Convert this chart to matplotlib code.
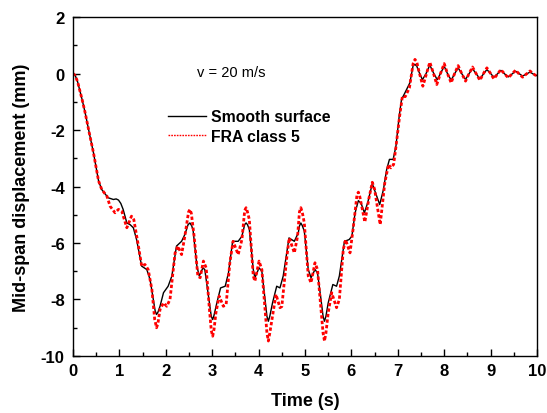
import numpy as np
import matplotlib.pyplot as plt
from matplotlib.ticker import MultipleLocator

plt.rcParams['font.family'] = ['Liberation Sans', 'DejaVu Sans']
plt.rcParams['axes.unicode_minus'] = False

# smooth surface (black)
t_smooth = [0.00, 0.05, 0.10, 0.20, 0.26, 0.35, 0.44, 0.50, 0.55, 0.62, 0.70, 0.76,
            0.87, 0.93, 0.98, 1.03, 1.08, 1.16, 1.23, 1.30, 1.37, 1.48, 1.59, 1.66,
            1.73, 1.77, 1.80, 1.83, 1.875, 1.95, 2.05, 2.13, 2.23, 2.34, 2.41, 2.48,
            2.52, 2.56, 2.59, 2.67, 2.72, 2.80, 2.84, 2.92, 2.98, 3.01, 3.04, 3.10,
            3.18, 3.28, 3.35, 3.44, 3.56, 3.64, 3.70, 3.73, 3.76, 3.80, 3.885, 3.92,
            4.01, 4.07, 4.14, 4.18, 4.21, 4.24, 4.30, 4.39, 4.46, 4.53, 4.64, 4.655,
            4.77, 4.855, 4.88, 4.91, 4.94, 4.985, 5.07, 5.13, 5.215, 5.27, 5.345, 5.39,
            5.42, 5.45, 5.50, 5.60, 5.68, 5.74, 5.85, 5.95, 6.01, 6.08, 6.15, 6.21,
            6.28, 6.35, 6.45, 6.52, 6.61, 6.69, 6.76, 6.82, 6.90, 6.96, 7.03, 7.08,
            7.155, 7.26, 7.33, 7.37, 7.41, 7.45, 7.53, 7.61, 7.69, 7.77, 7.85, 7.92,
            8.00, 8.07, 8.15, 8.22, 8.30, 8.38, 8.46, 8.53, 8.61, 8.69, 8.77, 8.84,
            8.92, 9.00, 9.07, 9.15, 9.22, 9.30, 9.38, 9.46, 9.54, 9.61, 9.69, 9.77,
            9.85, 9.92, 10.00]
y_smooth = [0.00, -0.08, -0.30, -0.95, -1.38, -2.10, -2.80, -3.35, -3.80, -4.11, -4.28, -4.40,
            -4.46, -4.44, -4.48, -4.60, -4.81, -5.29, -5.35, -5.46, -5.88, -6.82, -6.94, -7.29,
            -8.00, -8.40, -8.53, -8.45, -8.24, -7.76, -7.53, -7.17, -6.11, -5.94, -5.70, -5.35,
            -5.29, -5.40, -5.58, -6.82, -7.17, -6.88, -6.94, -7.88, -8.60, -8.71, -8.55, -8.12,
            -7.59, -7.53, -7.06, -5.94, -5.94, -5.76, -5.35, -5.29, -5.35, -5.52, -6.94, -7.23,
            -6.88, -7.00, -8.00, -8.60, -8.77, -8.60, -8.12, -7.53, -7.59, -7.17, -6.00, -5.82,
            -5.94, -5.64, -5.40, -5.29, -5.38, -5.58, -6.94, -7.23, -6.94, -7.06, -8.00, -8.60,
            -8.77, -8.60, -8.12, -7.47, -7.53, -7.17, -5.94, -5.88, -5.76, -4.93, -4.50, -4.60,
            -4.93, -4.58, -3.90, -4.22, -4.64, -4.11, -3.40, -3.04, -3.04, -2.57, -1.51, -0.92,
            -0.68, -0.33, 0.28, 0.32, 0.26, 0.08, -0.22, 0.00, 0.30, 0.02, -0.22, 0.00,
            0.26, 0.00, -0.24, -0.02, 0.20, -0.01, -0.21, -0.02, 0.17, -0.01, -0.19, -0.03,
            0.14, 0.00, -0.13, -0.01, 0.11, -0.01, -0.12, -0.02, 0.08, 0.00, -0.09, -0.02,
            0.05, -0.02, -0.08]

# FRA class 5 (red dashed)
t_fra = [0.00, 0.05, 0.10, 0.20, 0.26, 0.35, 0.44, 0.50, 0.55, 0.62, 0.73, 0.80,
         0.905, 0.98, 1.05, 1.16, 1.26, 1.31, 1.41, 1.48, 1.55, 1.62, 1.70, 1.76,
         1.80, 1.83, 1.875, 1.95, 2.02, 2.09, 2.20, 2.26, 2.34, 2.41, 2.49, 2.52,
         2.55, 2.61, 2.69, 2.74, 2.81, 2.87, 2.94, 2.98, 3.01, 3.04, 3.08, 3.15,
         3.24, 3.30, 3.38, 3.45, 3.56, 3.64, 3.70, 3.73, 3.76, 3.80, 3.885, 3.92,
         4.01, 4.07, 4.14, 4.18, 4.21, 4.24, 4.30, 4.375, 4.46, 4.50, 4.61, 4.66,
         4.77, 4.84, 4.88, 4.91, 4.94, 4.985, 5.07, 5.13, 5.215, 5.27, 5.345, 5.39,
         5.42, 5.45, 5.50, 5.575, 5.68, 5.74, 5.825, 5.875, 5.97, 6.04, 6.12, 6.15,
         6.18, 6.29, 6.38, 6.45, 6.50, 6.62, 6.72, 6.80, 6.85, 6.91, 6.96, 7.04,
         7.10, 7.16, 7.25, 7.33, 7.37, 7.41, 7.46, 7.54, 7.62, 7.69, 7.77, 7.84,
         7.92, 8.00, 8.07, 8.15, 8.22, 8.30, 8.38, 8.46, 8.53, 8.61, 8.69, 8.77,
         8.84, 8.92, 9.00, 9.07, 9.15, 9.22, 9.30, 9.38, 9.46, 9.54, 9.61, 9.69,
         9.77, 9.85, 9.92, 10.00]
y_fra = [0.00, -0.08, -0.30, -0.95, -1.38, -2.10, -2.80, -3.35, -3.80, -4.11, -4.34, -4.70,
         -4.93, -4.81, -4.87, -5.46, -5.05, -5.17, -6.11, -6.82, -6.76, -6.94, -7.65, -8.70,
         -9.00, -8.85, -8.35, -8.12, -8.24, -8.00, -6.35, -6.11, -6.41, -5.76, -4.90, -4.81,
         -4.95, -5.76, -7.17, -7.23, -6.64, -6.88, -8.35, -9.10, -9.30, -9.05, -8.47, -7.88,
         -8.24, -8.18, -6.70, -5.94, -6.41, -5.88, -4.85, -4.75, -4.90, -5.17, -7.17, -7.35,
         -6.64, -6.94, -8.35, -9.20, -9.47, -9.20, -8.59, -7.82, -8.29, -8.25, -6.47, -5.82,
         -6.35, -5.76, -4.90, -4.75, -4.90, -5.29, -7.17, -7.41, -6.70, -6.94, -8.35, -9.20,
         -9.47, -9.20, -8.47, -7.76, -8.29, -8.00, -6.23, -5.88, -6.35, -5.46, -4.30, -4.20,
         -4.35, -5.26, -4.40, -3.85, -4.10, -5.35, -3.87, -3.22, -3.34, -3.22, -2.60, -1.50,
         -0.80, -0.82, -0.51, 0.35, 0.50, 0.40, 0.05, -0.45, 0.00, 0.40, 0.00, -0.39,
         0.00, 0.35, 0.00, -0.33, -0.02, 0.28, -0.01, -0.27, -0.02, 0.23, -0.01, -0.24,
         -0.02, 0.20, 0.00, -0.19, -0.02, 0.14, -0.01, -0.15, -0.02, 0.12, -0.01, -0.13,
         -0.02, 0.09, -0.01, -0.10]

fig = plt.figure(figsize=(5.47, 4.14), dpi=100)
ax = fig.add_axes([0.1335, 0.1377, 0.8482, 0.8188])

ax.plot(t_smooth, y_smooth, color='black', lw=1.0, label='Smooth surface')
ax.plot(t_fra, y_fra, color='red', lw=2.0, linestyle=(0, (1.2, 0.8)), label='FRA class 5')

ax.set_xlim(0, 10)
ax.set_ylim(-10, 2)
ax.xaxis.set_major_locator(MultipleLocator(1))
ax.xaxis.set_minor_locator(MultipleLocator(0.5))
ax.yaxis.set_major_locator(MultipleLocator(2))
ax.yaxis.set_minor_locator(MultipleLocator(1))
ax.tick_params(which='both', direction='in', top=False, right=False, width=1)
ax.tick_params(which='major', length=5, labelsize=12)
ax.tick_params(which='minor', length=3)
ax.tick_params(axis='y', which='major', pad=6)
ax.tick_params(axis='x', which='major', pad=5)
for lab in ax.get_xticklabels() + ax.get_yticklabels():
    lab.set_fontweight('bold')
for s in ax.spines.values():
    s.set_linewidth(1.0)

ax.set_xlabel('Time (s)', fontsize=13, fontweight='bold', labelpad=10)
ax.set_ylabel('Mid-span displacement (mm)', fontsize=13, fontweight='bold', labelpad=8)

ax.text(2.67, 0.07, 'v = 20 m/s', fontsize=10.5, va='center', ha='left')

leg = ax.legend(loc='upper left', bbox_to_anchor=(0.205, 0.728), frameon=False,
                borderpad=0, borderaxespad=0, handlelength=2.4, handletextpad=0.3,
                labelspacing=0.28, prop={'size': 11.3, 'weight': 'bold'})
leg.get_lines()[1].set_linewidth(1.0)

fig.savefig('out.png', dpi=100)
